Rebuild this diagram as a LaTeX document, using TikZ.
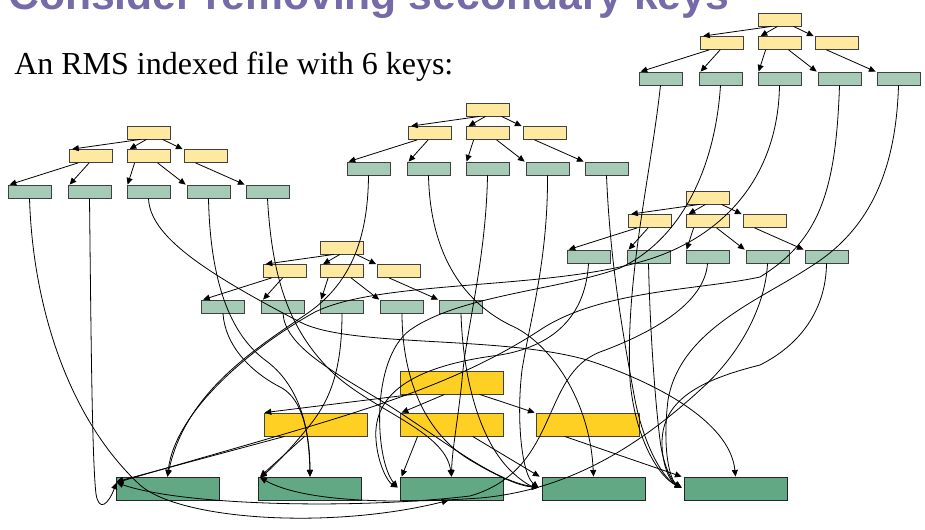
\documentclass[tikz,border=0pt]{standalone}
\usepackage{fontspec}
\setmainfont{Liberation Serif}
\newfontfamily\titlefont{Liberation Sans}
\usetikzlibrary{arrows.meta,calc}
\definecolor{sy}{RGB}{255,233,160}
\definecolor{sg}{RGB}{165,203,182}
\definecolor{byel}{RGB}{255,208,36}
\definecolor{bgrn}{RGB}{98,168,132}
\definecolor{ttl}{RGB}{118,106,168}
\newcommand\smalltree[3]{%
  \node[sybox] (#1r) at (#2,#3) {};
  \node[sybox] (#1a) at (#2-57.5,#3+23.5) {};
  \node[sybox] (#1b) at (#2,#3+23.5) {};
  \node[sybox] (#1c) at (#2+57,#3+23.5) {};
  \node[sgbox] (#1l1) at (#2-119,#3+59) {};
  \node[sgbox] (#1l2) at (#2-59,#3+59) {};
  \node[sgbox] (#1l3) at (#2,#3+59) {};
  \node[sgbox] (#1l4) at (#2+60,#3+59) {};
  \node[sgbox] (#1l5) at (#2+119,#3+59) {};
  \draw[tarr] ($(#1r.south)+(-8,0)$) -- ($(#1a.north west)+(3,0)$);
  \draw[tarr] ($(#1r.south)+(-2,0)$) -- ($(#1b.north west)+(3,0)$);
  \draw[tarr] ($(#1r.south)+(14,0)$) -- ($(#1c.north west)+(-1,0)$);
  \draw[tarr] ($(#1a.south west)+(9,0)$) -- ($(#1l1.north west)+(2,0)$);
  \draw[tarr] ($(#1a.south west)+(20,0)$) -- ($(#1l2.north west)+(2,0)$);
  \draw[tarr] ($(#1b.south west)+(8,0)$) -- ($(#1l3.north west)+(1,0)$);
  \draw[tarr] ($(#1b.south west)+(31,0)$) -- ($(#1l4.north west)+(-1,0)$);
  \draw[tarr] ($(#1c.south west)+(12,0)$) -- ($(#1l5.north west)+(-1,0)$);
}
\begin{document}
\begin{tikzpicture}[x=0.75pt,y=-0.75pt,
  sybox/.style={draw=black!75, fill=sy, minimum width=32.25pt, minimum height=9.75pt, inner sep=0pt, line width=0.6pt},
  sgbox/.style={draw=black!75, fill=sg, minimum width=32.25pt, minimum height=9.75pt, inner sep=0pt, line width=0.6pt},
  bybox/.style={draw=black!75, fill=byel, minimum width=77.25pt, minimum height=17.25pt, inner sep=0pt, line width=0.6pt},
  bgbox/.style={draw=black!85, fill=bgrn, minimum width=77.25pt, minimum height=17.25pt, inner sep=0pt, line width=0.6pt},
  tarr/.style={-{Triangle[length=5pt,width=4.5pt]}, line width=0.6pt},
  curv/.style={-{Triangle[length=5pt,width=4.5pt]}, line width=0.6pt}]
\useasboundingbox (0,0) rectangle (925,529);
\node[anchor=base west, inner sep=0pt, text=ttl, font=\titlefont\bfseries\fontsize{32}{38}\selectfont] (title) at (8,9) {Consider removing secondary keys};
\node[anchor=base west, inner sep=0pt, font=\fontsize{24}{28}\selectfont] (sub) at (14,74) {An RMS indexed file with 6 keys:};
% small trees
\smalltree{t1}{148.5}{132.5}
\smalltree{t2}{487.5}{109.5}
\smalltree{t3}{779.5}{19.5}
\smalltree{t4}{707.5}{197.5}
\smalltree{t5}{342}{247.5}
% big tree
\node[bybox] (br) at (451.5,382.5) {};
\node[bybox] (ba) at (315.5,424.5) {};
\node[bybox] (bb) at (451.5,424.5) {};
\node[bybox] (bc) at (587.5,424.5) {};
\node[bgbox] (b1) at (167.5,488.5) {};
\node[bgbox] (b2) at (310,488.5) {};
\node[bgbox] (b3) at (451.5,488.5) {};
\node[bgbox] (b4) at (593.5,488.5) {};
\node[bgbox] (b5) at (735.5,488.5) {};
\draw[tarr] ($(br.south west)+(13,0)$) -- ($(ba.north west)+(1,0)$);
\draw[tarr] ($(br.south west)+(45,0)$) -- ($(bb.north west)+(2,0)$);
\draw[tarr] ($(br.south west)+(80,0)$) -- ($(bc.north west)+(-1,0)$);
\draw[tarr] ($(ba.south west)+(21,0)$) -- ($(b1.north west)+(1,5)$);
\draw[tarr] ($(ba.south west)+(41,0)$) -- ($(b2.north west)+(2,0)$);
\draw[tarr] ($(bb.south west)+(18,0)$) -- ($(b3.north west)+(2,0)$);
\draw[tarr] ($(bb.south west)+(73,0)$) -- ($(b4.north west)+(-2,0)$);
\draw[tarr] ($(bc.south west)+(29,0)$) -- ($(b5.north west)+(-2,0)$);
% targets
\coordinate (b1left) at ($(b1.north west)+(1,6)$);
\coordinate (b2left) at ($(b2.north west)+(2,1)$);
\coordinate (b3lm) at ($(b3.west)+(-2,-1)$);
\coordinate (b3bot) at ($(b3.south)+(-3,0)$);
\coordinate (b4lm) at ($(b4.west)+(-3,-1)$);
\coordinate (b5lm) at ($(b5.west)+(-2,-1)$);
% tree 1
\draw[curv] (t1l1.south) .. controls (33,310) and (70,420) .. (140,485) .. controls (180,520) and (330,530) .. (b3bot);
\draw[curv] (t1l2.south) .. controls (91,330) and (92,460) .. (96,494) .. controls (99,512) and (108,505) .. (b1left);
\draw[curv] (t1l3.south) .. controls (150,235) and (200,270) .. (300,322) .. controls (350,348) and (500,335) .. (587,360) .. controls (650,380) and (730,420) .. (b5.north);
\draw[curv] (t1l4.south) .. controls (210,270) and (225,330) .. (265,360) .. controls (300,385) and (310,430) .. (b2.north);
\draw[curv] (t1l5.south) .. controls (272,280) and (290,330) .. (330,370) .. controls (370,410) and (445,430) .. (b3.north);
% tree 5
\draw[curv] (t5l1.south) .. controls (225,345) and (250,372) .. (282,388) .. controls (302,400) and (309,430) .. (b2.north);
\draw[curv] (t5l2.south) .. controls (285,345) and (330,370) .. (380,400) .. controls (440,437) and (490,480) .. (b4lm);
\draw[curv] (t5l3.south) .. controls (342,370) and (330,400) .. (310,425) .. controls (290,450) and (272,468) .. (b2left);
\draw[curv] (t5l4.south) .. controls (402,370) and (420,430) .. (470,460) .. controls (500,478) and (520,486) .. (b4lm);
\draw[curv] (t5l5.south) .. controls (463,380) and (480,440) .. (510,470) .. controls (520,480) and (530,486) .. (b4lm);
% tree 2
\draw[curv] (t2l1.south) .. controls (368,240) and (350,285) .. (305,315) .. controls (250,352) and (185,395) .. (b1.north);
\draw[curv] (t2l2.south) .. controls (430,250) and (460,300) .. (510,325) .. controls (550,342) and (590,400) .. (b4.north);
\draw[curv] (t2l3.south) .. controls (486,260) and (466,330) .. (462,380) .. controls (458,420) and (452,450) .. (b3.north);
\draw[curv] (t2l4.south) .. controls (548,260) and (530,320) .. (522,370) .. controls (516,420) and (522,475) .. (b4lm);
\draw[curv] (t2l5.south) .. controls (610,260) and (622,330) .. (635,400) .. controls (645,450) and (665,480) .. (b5lm);
% tree 4
\draw[curv] (t4l1.south) .. controls (586,310) and (560,345) .. (500,355) .. controls (420,365) and (372,390) .. (376,440) .. controls (378,465) and (388,482) .. (b3lm);
\draw[curv] (t4l2.south) .. controls (650,330) and (655,400) .. (660,440) .. controls (663,465) and (672,482) .. (b5lm);
\draw[curv] (t4l3.south) .. controls (705,300) and (660,330) .. (600,352) .. controls (540,375) and (560,470) .. (470,496) .. controls (350,510) and (180,505) .. (b1left);
\draw[curv] (t4l4.south) .. controls (766,300) and (745,350) .. (700,390) .. controls (640,445) and (570,490) .. (480,498) .. controls (380,505) and (300,500) .. (b2left);
\draw[curv] (t4l5.south) .. controls (826,310) and (800,345) .. (760,365) .. controls (700,380) and (662,400) .. (662,443) .. controls (662,465) and (670,482) .. (b5lm);
% tree 3
\draw[curv] (t3l1.south) .. controls (650,180) and (625,280) .. (630,380) .. controls (635,440) and (660,478) .. (b5lm);
\draw[curv] (t3l2.south) .. controls (715,170) and (680,240) .. (620,268) .. controls (560,290) and (460,295) .. (410,330) .. controls (370,360) and (375,460) .. (b3lm);
\draw[curv] (t3l3.south) .. controls (778,180) and (720,240) .. (640,262) .. controls (540,290) and (380,280) .. (315,312) .. controls (255,345) and (175,410) .. (b1.north);
\draw[curv] (t3l4.south) .. controls (836,190) and (820,240) .. (760,277) .. controls (700,290) and (600,290) .. (540,330) .. controls (440,395) and (330,420) .. (b1left);
\draw[curv] (t3l5.south) .. controls (896,170) and (870,230) .. (810,267) .. controls (760,300) and (680,330) .. (668,400) .. controls (662,450) and (670,480) .. (b5lm);
\end{tikzpicture}
\end{document}
